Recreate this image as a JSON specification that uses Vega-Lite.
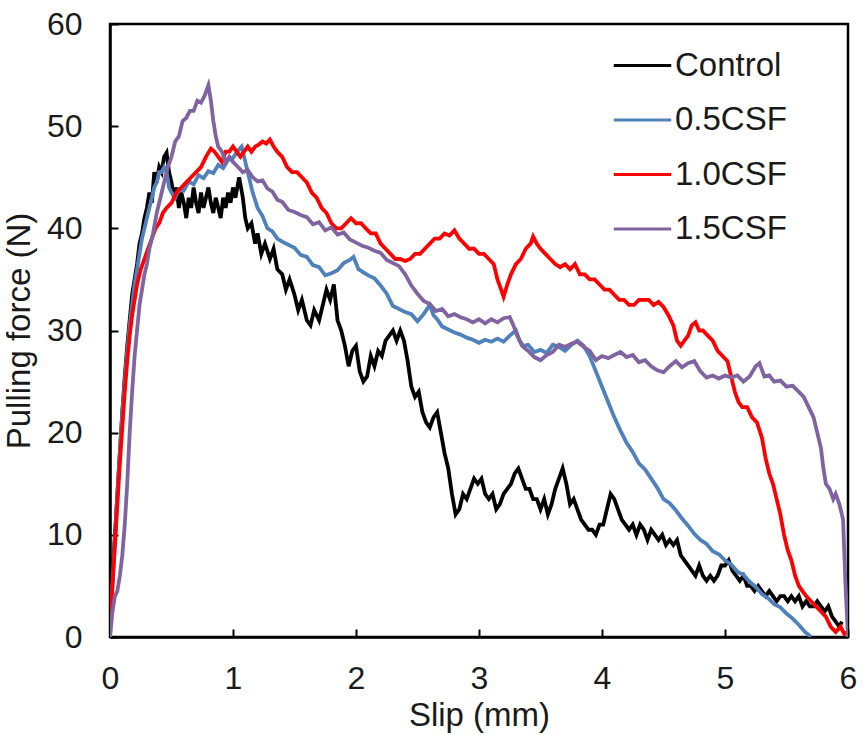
{
  "$schema": "https://vega.github.io/schema/vega-lite/v6.json",
  "width": 738,
  "height": 613,
  "autosize": "none",
  "padding": {"left": 110, "top": 24, "right": 17, "bottom": 98},
  "background": "white",
  "config": {
    "font": "Liberation Sans",
    "view": {"stroke": "black", "strokeWidth": 2.5},
    "axis": {
      "grid": false,
      "domainColor": "black",
      "domainWidth": 2.5,
      "tickColor": "black",
      "tickWidth": 2,
      "tickSize": -8,
      "labelFlush": false,
      "labelColor": "#1a1a1a",
      "titleColor": "#1a1a1a",
      "labelFont": "Liberation Sans",
      "titleFont": "Liberation Sans",
      "labelFontSize": 32,
      "titleFontSize": 33,
      "titleFontWeight": "normal"
    }
  },
  "data": {"values": [
    {"g":"Control","x":0,"y":1.5},{"g":"Control","x":0.02,"y":6},{"g":"Control","x":0.04,"y":10},{"g":"Control","x":0.06,"y":14},{"g":"Control","x":0.08,"y":18},{"g":"Control","x":0.1,"y":22},{"g":"Control","x":0.12,"y":25.5},{"g":"Control","x":0.14,"y":28.5},{"g":"Control","x":0.16,"y":31},{"g":"Control","x":0.18,"y":33.5},{"g":"Control","x":0.2,"y":35},{"g":"Control","x":0.22,"y":36.5},{"g":"Control","x":0.24,"y":38.5},{"g":"Control","x":0.26,"y":39.5},{"g":"Control","x":0.28,"y":41},{"g":"Control","x":0.3,"y":42},{"g":"Control","x":0.32,"y":43.5},{"g":"Control","x":0.34,"y":42.5},{"g":"Control","x":0.36,"y":45.5},{"g":"Control","x":0.38,"y":44.5},{"g":"Control","x":0.4,"y":46},{"g":"Control","x":0.42,"y":45.5},{"g":"Control","x":0.44,"y":47},{"g":"Control","x":0.46,"y":47.4},{"g":"Control","x":0.48,"y":45.5},{"g":"Control","x":0.5,"y":44.5},{"g":"Control","x":0.52,"y":43},{"g":"Control","x":0.54,"y":44},{"g":"Control","x":0.56,"y":42},{"g":"Control","x":0.58,"y":43.5},{"g":"Control","x":0.6,"y":42.5},{"g":"Control","x":0.62,"y":41},{"g":"Control","x":0.64,"y":43},{"g":"Control","x":0.66,"y":42},{"g":"Control","x":0.68,"y":44},{"g":"Control","x":0.7,"y":42.5},{"g":"Control","x":0.72,"y":41.5},{"g":"Control","x":0.74,"y":43.5},{"g":"Control","x":0.76,"y":42},{"g":"Control","x":0.78,"y":43},{"g":"Control","x":0.8,"y":44},{"g":"Control","x":0.82,"y":42.5},{"g":"Control","x":0.84,"y":41.5},{"g":"Control","x":0.86,"y":43},{"g":"Control","x":0.88,"y":42},{"g":"Control","x":0.9,"y":41},{"g":"Control","x":0.92,"y":43},{"g":"Control","x":0.94,"y":42},{"g":"Control","x":0.96,"y":43.5},{"g":"Control","x":0.98,"y":42.5},{"g":"Control","x":1.0,"y":44},{"g":"Control","x":1.02,"y":43},{"g":"Control","x":1.05,"y":45},{"g":"Control","x":1.08,"y":43},{"g":"Control","x":1.1,"y":41},{"g":"Control","x":1.12,"y":40},{"g":"Control","x":1.15,"y":40.5},{"g":"Control","x":1.18,"y":38.5},{"g":"Control","x":1.2,"y":39.5},{"g":"Control","x":1.23,"y":37.5},{"g":"Control","x":1.26,"y":38.5},{"g":"Control","x":1.3,"y":37},{"g":"Control","x":1.33,"y":38},{"g":"Control","x":1.36,"y":36},{"g":"Control","x":1.4,"y":35.5},{"g":"Control","x":1.43,"y":34},{"g":"Control","x":1.46,"y":35},{"g":"Control","x":1.5,"y":33.5},{"g":"Control","x":1.53,"y":32},{"g":"Control","x":1.56,"y":33},{"g":"Control","x":1.6,"y":31},{"g":"Control","x":1.63,"y":30.5},{"g":"Control","x":1.66,"y":32},{"g":"Control","x":1.7,"y":31},{"g":"Control","x":1.73,"y":32.5},{"g":"Control","x":1.76,"y":34},{"g":"Control","x":1.79,"y":33},{"g":"Control","x":1.82,"y":34.5},{"g":"Control","x":1.85,"y":31},{"g":"Control","x":1.88,"y":30},{"g":"Control","x":1.91,"y":28.5},{"g":"Control","x":1.94,"y":26.5},{"g":"Control","x":1.97,"y":28},{"g":"Control","x":2.0,"y":28.5},{"g":"Control","x":2.03,"y":26},{"g":"Control","x":2.06,"y":25},{"g":"Control","x":2.09,"y":25.5},{"g":"Control","x":2.12,"y":27.5},{"g":"Control","x":2.15,"y":26.5},{"g":"Control","x":2.18,"y":28},{"g":"Control","x":2.21,"y":27.5},{"g":"Control","x":2.24,"y":29},{"g":"Control","x":2.27,"y":29.5},{"g":"Control","x":2.3,"y":30},{"g":"Control","x":2.33,"y":29},{"g":"Control","x":2.36,"y":30},{"g":"Control","x":2.39,"y":29},{"g":"Control","x":2.42,"y":27},{"g":"Control","x":2.45,"y":24.5},{"g":"Control","x":2.48,"y":23.5},{"g":"Control","x":2.51,"y":24},{"g":"Control","x":2.54,"y":22},{"g":"Control","x":2.57,"y":21},{"g":"Control","x":2.6,"y":20.5},{"g":"Control","x":2.63,"y":21.5},{"g":"Control","x":2.66,"y":22},{"g":"Control","x":2.69,"y":20},{"g":"Control","x":2.72,"y":18},{"g":"Control","x":2.75,"y":16.5},{"g":"Control","x":2.78,"y":14},{"g":"Control","x":2.81,"y":12},{"g":"Control","x":2.84,"y":12.5},{"g":"Control","x":2.87,"y":14},{"g":"Control","x":2.9,"y":13.5},{"g":"Control","x":2.93,"y":14.5},{"g":"Control","x":2.96,"y":15.5},{"g":"Control","x":2.99,"y":15},{"g":"Control","x":3.02,"y":15.5},{"g":"Control","x":3.05,"y":14},{"g":"Control","x":3.08,"y":13.5},{"g":"Control","x":3.11,"y":14},{"g":"Control","x":3.14,"y":12.5},{"g":"Control","x":3.17,"y":13},{"g":"Control","x":3.2,"y":14},{"g":"Control","x":3.23,"y":14.5},{"g":"Control","x":3.26,"y":15},{"g":"Control","x":3.29,"y":16},{"g":"Control","x":3.32,"y":16.5},{"g":"Control","x":3.35,"y":15.5},{"g":"Control","x":3.38,"y":14.5},{"g":"Control","x":3.41,"y":14.5},{"g":"Control","x":3.44,"y":13.5},{"g":"Control","x":3.47,"y":13.5},{"g":"Control","x":3.5,"y":12.5},{"g":"Control","x":3.53,"y":13.5},{"g":"Control","x":3.56,"y":12},{"g":"Control","x":3.59,"y":13},{"g":"Control","x":3.62,"y":14.5},{"g":"Control","x":3.65,"y":15.5},{"g":"Control","x":3.68,"y":16.5},{"g":"Control","x":3.71,"y":15},{"g":"Control","x":3.74,"y":13},{"g":"Control","x":3.77,"y":13.5},{"g":"Control","x":3.8,"y":12.5},{"g":"Control","x":3.83,"y":11.5},{"g":"Control","x":3.86,"y":11},{"g":"Control","x":3.89,"y":10.5},{"g":"Control","x":3.92,"y":10.5},{"g":"Control","x":3.95,"y":10},{"g":"Control","x":3.98,"y":11},{"g":"Control","x":4.01,"y":11},{"g":"Control","x":4.04,"y":12.5},{"g":"Control","x":4.07,"y":14},{"g":"Control","x":4.1,"y":13.5},{"g":"Control","x":4.13,"y":12.5},{"g":"Control","x":4.16,"y":11.5},{"g":"Control","x":4.19,"y":11},{"g":"Control","x":4.22,"y":10.5},{"g":"Control","x":4.25,"y":11},{"g":"Control","x":4.28,"y":10},{"g":"Control","x":4.31,"y":11},{"g":"Control","x":4.34,"y":10.5},{"g":"Control","x":4.37,"y":9.5},{"g":"Control","x":4.4,"y":10.5},{"g":"Control","x":4.43,"y":10},{"g":"Control","x":4.46,"y":9.5},{"g":"Control","x":4.49,"y":10},{"g":"Control","x":4.52,"y":9},{"g":"Control","x":4.55,"y":9.5},{"g":"Control","x":4.58,"y":9},{"g":"Control","x":4.61,"y":9.5},{"g":"Control","x":4.64,"y":8},{"g":"Control","x":4.67,"y":7.5},{"g":"Control","x":4.7,"y":7},{"g":"Control","x":4.73,"y":6.5},{"g":"Control","x":4.76,"y":6},{"g":"Control","x":4.79,"y":7},{"g":"Control","x":4.82,"y":6},{"g":"Control","x":4.85,"y":5.5},{"g":"Control","x":4.88,"y":6},{"g":"Control","x":4.91,"y":5.5},{"g":"Control","x":4.94,"y":6},{"g":"Control","x":4.97,"y":7},{"g":"Control","x":5.0,"y":7},{"g":"Control","x":5.03,"y":7.5},{"g":"Control","x":5.06,"y":6.5},{"g":"Control","x":5.09,"y":6},{"g":"Control","x":5.12,"y":5.5},{"g":"Control","x":5.15,"y":6},{"g":"Control","x":5.18,"y":5},{"g":"Control","x":5.21,"y":5},{"g":"Control","x":5.24,"y":4.5},{"g":"Control","x":5.27,"y":5},{"g":"Control","x":5.3,"y":4.5},{"g":"Control","x":5.33,"y":4},{"g":"Control","x":5.36,"y":4.5},{"g":"Control","x":5.39,"y":4},{"g":"Control","x":5.42,"y":3.5},{"g":"Control","x":5.45,"y":4},{"g":"Control","x":5.48,"y":4},{"g":"Control","x":5.51,"y":3.5},{"g":"Control","x":5.54,"y":4},{"g":"Control","x":5.57,"y":3.5},{"g":"Control","x":5.6,"y":4},{"g":"Control","x":5.63,"y":3},{"g":"Control","x":5.66,"y":3.5},{"g":"Control","x":5.69,"y":3},{"g":"Control","x":5.72,"y":3},{"g":"Control","x":5.75,"y":3.5},{"g":"Control","x":5.78,"y":3},{"g":"Control","x":5.81,"y":2.5},{"g":"Control","x":5.84,"y":3},{"g":"Control","x":5.87,"y":2},{"g":"Control","x":5.9,"y":1.5},{"g":"Control","x":5.93,"y":1},{"g":"Control","x":5.95,"y":1.5},

    {"g":"0.5CSF","x":0,"y":0},{"g":"0.5CSF","x":0.02,"y":5},{"g":"0.5CSF","x":0.04,"y":9.5},{"g":"0.5CSF","x":0.06,"y":14},{"g":"0.5CSF","x":0.08,"y":18},{"g":"0.5CSF","x":0.1,"y":22},{"g":"0.5CSF","x":0.12,"y":25},{"g":"0.5CSF","x":0.14,"y":28},{"g":"0.5CSF","x":0.16,"y":30.5},{"g":"0.5CSF","x":0.18,"y":32.5},{"g":"0.5CSF","x":0.2,"y":34.5},{"g":"0.5CSF","x":0.22,"y":36},{"g":"0.5CSF","x":0.24,"y":37.5},{"g":"0.5CSF","x":0.26,"y":39},{"g":"0.5CSF","x":0.28,"y":40},{"g":"0.5CSF","x":0.3,"y":41},{"g":"0.5CSF","x":0.32,"y":42},{"g":"0.5CSF","x":0.34,"y":43},{"g":"0.5CSF","x":0.36,"y":44},{"g":"0.5CSF","x":0.38,"y":44.5},{"g":"0.5CSF","x":0.4,"y":45.5},{"g":"0.5CSF","x":0.42,"y":45.5},{"g":"0.5CSF","x":0.44,"y":46},{"g":"0.5CSF","x":0.46,"y":45.5},{"g":"0.5CSF","x":0.48,"y":44},{"g":"0.5CSF","x":0.5,"y":43.5},{"g":"0.5CSF","x":0.53,"y":43},{"g":"0.5CSF","x":0.56,"y":43.8},{"g":"0.5CSF","x":0.6,"y":43.7},{"g":"0.5CSF","x":0.64,"y":44.6},{"g":"0.5CSF","x":0.68,"y":44.3},{"g":"0.5CSF","x":0.72,"y":45.2},{"g":"0.5CSF","x":0.76,"y":44.9},{"g":"0.5CSF","x":0.8,"y":45.6},{"g":"0.5CSF","x":0.84,"y":45.4},{"g":"0.5CSF","x":0.88,"y":46.2},{"g":"0.5CSF","x":0.92,"y":45.9},{"g":"0.5CSF","x":0.96,"y":46.7},{"g":"0.5CSF","x":1.0,"y":46.9},{"g":"0.5CSF","x":1.04,"y":47.6},{"g":"0.5CSF","x":1.07,"y":48},{"g":"0.5CSF","x":1.1,"y":46.5},{"g":"0.5CSF","x":1.13,"y":45},{"g":"0.5CSF","x":1.16,"y":43.5},{"g":"0.5CSF","x":1.2,"y":42},{"g":"0.5CSF","x":1.24,"y":41.2},{"g":"0.5CSF","x":1.28,"y":40},{"g":"0.5CSF","x":1.32,"y":39.7},{"g":"0.5CSF","x":1.36,"y":39},{"g":"0.5CSF","x":1.4,"y":38.7},{"g":"0.5CSF","x":1.45,"y":38.4},{"g":"0.5CSF","x":1.5,"y":38.1},{"g":"0.5CSF","x":1.55,"y":37.4},{"g":"0.5CSF","x":1.6,"y":37.2},{"g":"0.5CSF","x":1.65,"y":36.4},{"g":"0.5CSF","x":1.7,"y":36.2},{"g":"0.5CSF","x":1.75,"y":35.4},{"g":"0.5CSF","x":1.8,"y":35.6},{"g":"0.5CSF","x":1.85,"y":35.9},{"g":"0.5CSF","x":1.9,"y":36.6},{"g":"0.5CSF","x":1.95,"y":36.9},{"g":"0.5CSF","x":1.98,"y":37.2},{"g":"0.5CSF","x":2.02,"y":36},{"g":"0.5CSF","x":2.06,"y":35.7},{"g":"0.5CSF","x":2.1,"y":35.4},{"g":"0.5CSF","x":2.15,"y":35.1},{"g":"0.5CSF","x":2.2,"y":34.4},{"g":"0.5CSF","x":2.25,"y":33.6},{"g":"0.5CSF","x":2.3,"y":32.4},{"g":"0.5CSF","x":2.35,"y":32.1},{"g":"0.5CSF","x":2.4,"y":31.8},{"g":"0.5CSF","x":2.45,"y":31.6},{"g":"0.5CSF","x":2.5,"y":30.9},{"g":"0.5CSF","x":2.55,"y":31.6},{"g":"0.5CSF","x":2.6,"y":32.5},{"g":"0.5CSF","x":2.63,"y":31.5},{"g":"0.5CSF","x":2.66,"y":31.1},{"g":"0.5CSF","x":2.7,"y":30.4},{"g":"0.5CSF","x":2.75,"y":30.1},{"g":"0.5CSF","x":2.8,"y":29.8},{"g":"0.5CSF","x":2.85,"y":29.6},{"g":"0.5CSF","x":2.9,"y":29.3},{"g":"0.5CSF","x":2.95,"y":29.1},{"g":"0.5CSF","x":3.0,"y":28.8},{"g":"0.5CSF","x":3.05,"y":29.1},{"g":"0.5CSF","x":3.1,"y":28.9},{"g":"0.5CSF","x":3.15,"y":29.2},{"g":"0.5CSF","x":3.2,"y":28.9},{"g":"0.5CSF","x":3.25,"y":29.5},{"g":"0.5CSF","x":3.3,"y":30},{"g":"0.5CSF","x":3.33,"y":29},{"g":"0.5CSF","x":3.36,"y":28.5},{"g":"0.5CSF","x":3.4,"y":28.6},{"g":"0.5CSF","x":3.45,"y":27.9},{"g":"0.5CSF","x":3.5,"y":28.1},{"g":"0.5CSF","x":3.55,"y":27.8},{"g":"0.5CSF","x":3.6,"y":28.6},{"g":"0.5CSF","x":3.65,"y":28.4},{"g":"0.5CSF","x":3.7,"y":28},{"g":"0.5CSF","x":3.75,"y":28.6},{"g":"0.5CSF","x":3.8,"y":29},{"g":"0.5CSF","x":3.85,"y":28.5},{"g":"0.5CSF","x":3.9,"y":27.5},{"g":"0.5CSF","x":3.95,"y":26},{"g":"0.5CSF","x":4.0,"y":24.5},{"g":"0.5CSF","x":4.05,"y":23},{"g":"0.5CSF","x":4.1,"y":21.5},{"g":"0.5CSF","x":4.15,"y":20.2},{"g":"0.5CSF","x":4.2,"y":19},{"g":"0.5CSF","x":4.25,"y":18.1},{"g":"0.5CSF","x":4.3,"y":17},{"g":"0.5CSF","x":4.35,"y":16.4},{"g":"0.5CSF","x":4.4,"y":15.5},{"g":"0.5CSF","x":4.45,"y":14.6},{"g":"0.5CSF","x":4.5,"y":13.5},{"g":"0.5CSF","x":4.55,"y":13.1},{"g":"0.5CSF","x":4.6,"y":12.4},{"g":"0.5CSF","x":4.65,"y":11.6},{"g":"0.5CSF","x":4.7,"y":10.9},{"g":"0.5CSF","x":4.75,"y":10.1},{"g":"0.5CSF","x":4.8,"y":9.5},{"g":"0.5CSF","x":4.85,"y":9.1},{"g":"0.5CSF","x":4.9,"y":8.4},{"g":"0.5CSF","x":4.95,"y":8.1},{"g":"0.5CSF","x":5.0,"y":7.5},{"g":"0.5CSF","x":5.05,"y":7.1},{"g":"0.5CSF","x":5.1,"y":6.4},{"g":"0.5CSF","x":5.15,"y":6.1},{"g":"0.5CSF","x":5.2,"y":5.4},{"g":"0.5CSF","x":5.25,"y":4.9},{"g":"0.5CSF","x":5.3,"y":4.2},{"g":"0.5CSF","x":5.35,"y":3.8},{"g":"0.5CSF","x":5.4,"y":3.2},{"g":"0.5CSF","x":5.45,"y":2.9},{"g":"0.5CSF","x":5.5,"y":2.3},{"g":"0.5CSF","x":5.55,"y":1.8},{"g":"0.5CSF","x":5.6,"y":1.2},{"g":"0.5CSF","x":5.65,"y":0.5},{"g":"0.5CSF","x":5.7,"y":0},

    {"g":"1.0CSF","x":0,"y":1.5},{"g":"1.0CSF","x":0.02,"y":5},{"g":"1.0CSF","x":0.04,"y":9},{"g":"1.0CSF","x":0.06,"y":13},{"g":"1.0CSF","x":0.08,"y":17},{"g":"1.0CSF","x":0.1,"y":20.5},{"g":"1.0CSF","x":0.12,"y":24},{"g":"1.0CSF","x":0.14,"y":27},{"g":"1.0CSF","x":0.16,"y":29.5},{"g":"1.0CSF","x":0.18,"y":31.5},{"g":"1.0CSF","x":0.2,"y":33},{"g":"1.0CSF","x":0.22,"y":34.5},{"g":"1.0CSF","x":0.25,"y":36},{"g":"1.0CSF","x":0.28,"y":37},{"g":"1.0CSF","x":0.31,"y":38},{"g":"1.0CSF","x":0.34,"y":39},{"g":"1.0CSF","x":0.37,"y":40},{"g":"1.0CSF","x":0.4,"y":40.5},{"g":"1.0CSF","x":0.43,"y":41.5},{"g":"1.0CSF","x":0.46,"y":42},{"g":"1.0CSF","x":0.5,"y":42.5},{"g":"1.0CSF","x":0.54,"y":43.5},{"g":"1.0CSF","x":0.58,"y":44},{"g":"1.0CSF","x":0.62,"y":44.5},{"g":"1.0CSF","x":0.66,"y":45},{"g":"1.0CSF","x":0.7,"y":45.5},{"g":"1.0CSF","x":0.74,"y":46},{"g":"1.0CSF","x":0.78,"y":47},{"g":"1.0CSF","x":0.82,"y":47.8},{"g":"1.0CSF","x":0.85,"y":47.5},{"g":"1.0CSF","x":0.88,"y":47},{"g":"1.0CSF","x":0.91,"y":46.5},{"g":"1.0CSF","x":0.94,"y":47.5},{"g":"1.0CSF","x":0.97,"y":47.5},{"g":"1.0CSF","x":1.0,"y":48},{"g":"1.0CSF","x":1.03,"y":47.5},{"g":"1.0CSF","x":1.06,"y":47},{"g":"1.0CSF","x":1.09,"y":47.5},{"g":"1.0CSF","x":1.12,"y":48},{"g":"1.0CSF","x":1.15,"y":47.5},{"g":"1.0CSF","x":1.18,"y":48},{"g":"1.0CSF","x":1.21,"y":48.2},{"g":"1.0CSF","x":1.24,"y":48.5},{"g":"1.0CSF","x":1.27,"y":48.3},{"g":"1.0CSF","x":1.3,"y":48.7},{"g":"1.0CSF","x":1.33,"y":48},{"g":"1.0CSF","x":1.36,"y":47.5},{"g":"1.0CSF","x":1.4,"y":47},{"g":"1.0CSF","x":1.44,"y":46},{"g":"1.0CSF","x":1.48,"y":45.5},{"g":"1.0CSF","x":1.52,"y":45.5},{"g":"1.0CSF","x":1.56,"y":45},{"g":"1.0CSF","x":1.6,"y":44.5},{"g":"1.0CSF","x":1.64,"y":43.5},{"g":"1.0CSF","x":1.68,"y":43},{"g":"1.0CSF","x":1.72,"y":42},{"g":"1.0CSF","x":1.76,"y":41.5},{"g":"1.0CSF","x":1.8,"y":40.5},{"g":"1.0CSF","x":1.84,"y":40},{"g":"1.0CSF","x":1.88,"y":40},{"g":"1.0CSF","x":1.92,"y":40.5},{"g":"1.0CSF","x":1.96,"y":41},{"g":"1.0CSF","x":2.0,"y":40.5},{"g":"1.0CSF","x":2.04,"y":40.5},{"g":"1.0CSF","x":2.08,"y":40},{"g":"1.0CSF","x":2.12,"y":39.5},{"g":"1.0CSF","x":2.16,"y":39.5},{"g":"1.0CSF","x":2.2,"y":38.5},{"g":"1.0CSF","x":2.24,"y":38},{"g":"1.0CSF","x":2.28,"y":37.5},{"g":"1.0CSF","x":2.32,"y":37},{"g":"1.0CSF","x":2.36,"y":37},{"g":"1.0CSF","x":2.4,"y":36.8},{"g":"1.0CSF","x":2.44,"y":37},{"g":"1.0CSF","x":2.48,"y":37.5},{"g":"1.0CSF","x":2.52,"y":37.5},{"g":"1.0CSF","x":2.56,"y":38},{"g":"1.0CSF","x":2.6,"y":38.5},{"g":"1.0CSF","x":2.64,"y":39},{"g":"1.0CSF","x":2.68,"y":39},{"g":"1.0CSF","x":2.72,"y":39.5},{"g":"1.0CSF","x":2.76,"y":39.3},{"g":"1.0CSF","x":2.8,"y":39.8},{"g":"1.0CSF","x":2.84,"y":39},{"g":"1.0CSF","x":2.88,"y":38.5},{"g":"1.0CSF","x":2.92,"y":38},{"g":"1.0CSF","x":2.96,"y":38},{"g":"1.0CSF","x":3.0,"y":37.5},{"g":"1.0CSF","x":3.04,"y":37.5},{"g":"1.0CSF","x":3.08,"y":37},{"g":"1.0CSF","x":3.12,"y":36.5},{"g":"1.0CSF","x":3.15,"y":35},{"g":"1.0CSF","x":3.18,"y":34},{"g":"1.0CSF","x":3.2,"y":33.3},{"g":"1.0CSF","x":3.23,"y":34.5},{"g":"1.0CSF","x":3.26,"y":35.5},{"g":"1.0CSF","x":3.3,"y":36.5},{"g":"1.0CSF","x":3.34,"y":37},{"g":"1.0CSF","x":3.38,"y":38},{"g":"1.0CSF","x":3.42,"y":38.5},{"g":"1.0CSF","x":3.44,"y":39.2},{"g":"1.0CSF","x":3.47,"y":38.5},{"g":"1.0CSF","x":3.5,"y":38},{"g":"1.0CSF","x":3.54,"y":37.5},{"g":"1.0CSF","x":3.58,"y":37},{"g":"1.0CSF","x":3.62,"y":36.5},{"g":"1.0CSF","x":3.66,"y":36.2},{"g":"1.0CSF","x":3.7,"y":36.5},{"g":"1.0CSF","x":3.74,"y":36},{"g":"1.0CSF","x":3.78,"y":36.5},{"g":"1.0CSF","x":3.82,"y":35.5},{"g":"1.0CSF","x":3.86,"y":35.5},{"g":"1.0CSF","x":3.9,"y":35},{"g":"1.0CSF","x":3.94,"y":35},{"g":"1.0CSF","x":3.98,"y":34.5},{"g":"1.0CSF","x":4.02,"y":34},{"g":"1.0CSF","x":4.06,"y":34},{"g":"1.0CSF","x":4.1,"y":33.5},{"g":"1.0CSF","x":4.14,"y":33},{"g":"1.0CSF","x":4.18,"y":33},{"g":"1.0CSF","x":4.22,"y":32.5},{"g":"1.0CSF","x":4.26,"y":32.5},{"g":"1.0CSF","x":4.3,"y":33},{"g":"1.0CSF","x":4.34,"y":33},{"g":"1.0CSF","x":4.38,"y":33},{"g":"1.0CSF","x":4.42,"y":32.5},{"g":"1.0CSF","x":4.46,"y":32.8},{"g":"1.0CSF","x":4.5,"y":32.3},{"g":"1.0CSF","x":4.54,"y":31.5},{"g":"1.0CSF","x":4.58,"y":30.5},{"g":"1.0CSF","x":4.61,"y":29},{"g":"1.0CSF","x":4.64,"y":28.5},{"g":"1.0CSF","x":4.67,"y":29},{"g":"1.0CSF","x":4.7,"y":29.5},{"g":"1.0CSF","x":4.73,"y":30.5},{"g":"1.0CSF","x":4.76,"y":30.8},{"g":"1.0CSF","x":4.79,"y":30},{"g":"1.0CSF","x":4.82,"y":30},{"g":"1.0CSF","x":4.86,"y":29.5},{"g":"1.0CSF","x":4.9,"y":29},{"g":"1.0CSF","x":4.94,"y":28},{"g":"1.0CSF","x":4.98,"y":27.5},{"g":"1.0CSF","x":5.02,"y":27},{"g":"1.0CSF","x":5.05,"y":25.5},{"g":"1.0CSF","x":5.08,"y":24},{"g":"1.0CSF","x":5.11,"y":23},{"g":"1.0CSF","x":5.14,"y":22.5},{"g":"1.0CSF","x":5.18,"y":22.5},{"g":"1.0CSF","x":5.22,"y":21.5},{"g":"1.0CSF","x":5.26,"y":21},{"g":"1.0CSF","x":5.3,"y":19.5},{"g":"1.0CSF","x":5.33,"y":17.5},{"g":"1.0CSF","x":5.36,"y":16},{"g":"1.0CSF","x":5.39,"y":15},{"g":"1.0CSF","x":5.42,"y":13.5},{"g":"1.0CSF","x":5.45,"y":12},{"g":"1.0CSF","x":5.48,"y":10},{"g":"1.0CSF","x":5.51,"y":8.5},{"g":"1.0CSF","x":5.54,"y":7.5},{"g":"1.0CSF","x":5.57,"y":6},{"g":"1.0CSF","x":5.6,"y":5},{"g":"1.0CSF","x":5.63,"y":4.5},{"g":"1.0CSF","x":5.66,"y":4},{"g":"1.0CSF","x":5.7,"y":3.5},{"g":"1.0CSF","x":5.74,"y":3},{"g":"1.0CSF","x":5.78,"y":2.5},{"g":"1.0CSF","x":5.82,"y":2},{"g":"1.0CSF","x":5.86,"y":1},{"g":"1.0CSF","x":5.9,"y":0.5},{"g":"1.0CSF","x":5.94,"y":1},{"g":"1.0CSF","x":5.97,"y":0.3},{"g":"1.0CSF","x":6.0,"y":0.5},

    {"g":"1.5CSF","x":0,"y":0},{"g":"1.5CSF","x":0.02,"y":2.5},{"g":"1.5CSF","x":0.04,"y":4},{"g":"1.5CSF","x":0.06,"y":4.5},{"g":"1.5CSF","x":0.08,"y":6},{"g":"1.5CSF","x":0.1,"y":8},{"g":"1.5CSF","x":0.12,"y":11},{"g":"1.5CSF","x":0.14,"y":15},{"g":"1.5CSF","x":0.16,"y":20},{"g":"1.5CSF","x":0.18,"y":24},{"g":"1.5CSF","x":0.2,"y":27.5},{"g":"1.5CSF","x":0.22,"y":30},{"g":"1.5CSF","x":0.24,"y":32.5},{"g":"1.5CSF","x":0.26,"y":34},{"g":"1.5CSF","x":0.28,"y":35.5},{"g":"1.5CSF","x":0.3,"y":36.5},{"g":"1.5CSF","x":0.32,"y":38},{"g":"1.5CSF","x":0.35,"y":39.5},{"g":"1.5CSF","x":0.38,"y":41.5},{"g":"1.5CSF","x":0.41,"y":43},{"g":"1.5CSF","x":0.44,"y":44.5},{"g":"1.5CSF","x":0.47,"y":46},{"g":"1.5CSF","x":0.5,"y":47},{"g":"1.5CSF","x":0.53,"y":48.5},{"g":"1.5CSF","x":0.56,"y":49},{"g":"1.5CSF","x":0.59,"y":50.5},{"g":"1.5CSF","x":0.62,"y":50.8},{"g":"1.5CSF","x":0.65,"y":51.5},{"g":"1.5CSF","x":0.68,"y":51.5},{"g":"1.5CSF","x":0.71,"y":52.5},{"g":"1.5CSF","x":0.74,"y":52.3},{"g":"1.5CSF","x":0.77,"y":53},{"g":"1.5CSF","x":0.8,"y":54},{"g":"1.5CSF","x":0.82,"y":52.5},{"g":"1.5CSF","x":0.84,"y":50.5},{"g":"1.5CSF","x":0.86,"y":49},{"g":"1.5CSF","x":0.88,"y":48},{"g":"1.5CSF","x":0.91,"y":47.5},{"g":"1.5CSF","x":0.94,"y":46.5},{"g":"1.5CSF","x":0.97,"y":47},{"g":"1.5CSF","x":1.0,"y":46.5},{"g":"1.5CSF","x":1.04,"y":46},{"g":"1.5CSF","x":1.08,"y":45.5},{"g":"1.5CSF","x":1.12,"y":45.7},{"g":"1.5CSF","x":1.16,"y":45},{"g":"1.5CSF","x":1.2,"y":44.6},{"g":"1.5CSF","x":1.24,"y":44.7},{"g":"1.5CSF","x":1.28,"y":43.9},{"g":"1.5CSF","x":1.32,"y":43.6},{"g":"1.5CSF","x":1.36,"y":42.8},{"g":"1.5CSF","x":1.4,"y":42.6},{"g":"1.5CSF","x":1.45,"y":41.8},{"g":"1.5CSF","x":1.5,"y":41.6},{"g":"1.5CSF","x":1.55,"y":41.3},{"g":"1.5CSF","x":1.6,"y":41.1},{"g":"1.5CSF","x":1.65,"y":40.4},{"g":"1.5CSF","x":1.7,"y":40.6},{"g":"1.5CSF","x":1.75,"y":39.8},{"g":"1.5CSF","x":1.8,"y":40.1},{"g":"1.5CSF","x":1.85,"y":39.4},{"g":"1.5CSF","x":1.9,"y":39.6},{"g":"1.5CSF","x":1.95,"y":38.9},{"g":"1.5CSF","x":2.0,"y":38.6},{"g":"1.5CSF","x":2.05,"y":38.3},{"g":"1.5CSF","x":2.1,"y":38.1},{"g":"1.5CSF","x":2.15,"y":37.8},{"g":"1.5CSF","x":2.2,"y":37.6},{"g":"1.5CSF","x":2.25,"y":36.9},{"g":"1.5CSF","x":2.3,"y":36.6},{"g":"1.5CSF","x":2.35,"y":36.3},{"g":"1.5CSF","x":2.4,"y":35.5},{"g":"1.5CSF","x":2.45,"y":34.4},{"g":"1.5CSF","x":2.5,"y":33.6},{"g":"1.5CSF","x":2.55,"y":32.9},{"g":"1.5CSF","x":2.6,"y":32.6},{"g":"1.5CSF","x":2.65,"y":31.9},{"g":"1.5CSF","x":2.7,"y":32.1},{"g":"1.5CSF","x":2.75,"y":31.4},{"g":"1.5CSF","x":2.8,"y":31.6},{"g":"1.5CSF","x":2.85,"y":31.3},{"g":"1.5CSF","x":2.9,"y":31.1},{"g":"1.5CSF","x":2.95,"y":30.8},{"g":"1.5CSF","x":3.0,"y":31.1},{"g":"1.5CSF","x":3.05,"y":30.7},{"g":"1.5CSF","x":3.1,"y":31.1},{"g":"1.5CSF","x":3.15,"y":30.8},{"g":"1.5CSF","x":3.2,"y":31.2},{"g":"1.5CSF","x":3.25,"y":31.3},{"g":"1.5CSF","x":3.28,"y":30.5},{"g":"1.5CSF","x":3.31,"y":29.5},{"g":"1.5CSF","x":3.35,"y":28.5},{"g":"1.5CSF","x":3.4,"y":28},{"g":"1.5CSF","x":3.45,"y":27.4},{"g":"1.5CSF","x":3.5,"y":27.1},{"g":"1.5CSF","x":3.55,"y":27.6},{"g":"1.5CSF","x":3.6,"y":27.9},{"g":"1.5CSF","x":3.65,"y":28.6},{"g":"1.5CSF","x":3.7,"y":28.4},{"g":"1.5CSF","x":3.75,"y":28.7},{"g":"1.5CSF","x":3.8,"y":28.9},{"g":"1.5CSF","x":3.85,"y":28.4},{"g":"1.5CSF","x":3.9,"y":28},{"g":"1.5CSF","x":3.95,"y":27.1},{"g":"1.5CSF","x":4.0,"y":27.5},{"g":"1.5CSF","x":4.05,"y":27.3},{"g":"1.5CSF","x":4.1,"y":27.6},{"g":"1.5CSF","x":4.15,"y":27.9},{"g":"1.5CSF","x":4.2,"y":27.4},{"g":"1.5CSF","x":4.25,"y":27.6},{"g":"1.5CSF","x":4.3,"y":26.9},{"g":"1.5CSF","x":4.35,"y":27.1},{"g":"1.5CSF","x":4.4,"y":26.5},{"g":"1.5CSF","x":4.45,"y":26.1},{"g":"1.5CSF","x":4.5,"y":25.9},{"g":"1.5CSF","x":4.55,"y":26.5},{"g":"1.5CSF","x":4.6,"y":27},{"g":"1.5CSF","x":4.65,"y":26.4},{"g":"1.5CSF","x":4.7,"y":26.8},{"g":"1.5CSF","x":4.75,"y":27},{"g":"1.5CSF","x":4.8,"y":26},{"g":"1.5CSF","x":4.85,"y":25.4},{"g":"1.5CSF","x":4.9,"y":25.6},{"g":"1.5CSF","x":4.95,"y":25.3},{"g":"1.5CSF","x":5.0,"y":25.6},{"g":"1.5CSF","x":5.05,"y":25.4},{"g":"1.5CSF","x":5.1,"y":25.6},{"g":"1.5CSF","x":5.15,"y":25},{"g":"1.5CSF","x":5.2,"y":25.5},{"g":"1.5CSF","x":5.25,"y":26.5},{"g":"1.5CSF","x":5.28,"y":26.8},{"g":"1.5CSF","x":5.32,"y":25.5},{"g":"1.5CSF","x":5.36,"y":25.6},{"g":"1.5CSF","x":5.4,"y":25},{"g":"1.5CSF","x":5.45,"y":25.1},{"g":"1.5CSF","x":5.5,"y":24.5},{"g":"1.5CSF","x":5.55,"y":24.6},{"g":"1.5CSF","x":5.6,"y":24},{"g":"1.5CSF","x":5.64,"y":23.5},{"g":"1.5CSF","x":5.68,"y":22.5},{"g":"1.5CSF","x":5.72,"y":21.5},{"g":"1.5CSF","x":5.75,"y":20},{"g":"1.5CSF","x":5.78,"y":18.5},{"g":"1.5CSF","x":5.8,"y":16.5},{"g":"1.5CSF","x":5.82,"y":15},{"g":"1.5CSF","x":5.85,"y":14.5},{"g":"1.5CSF","x":5.88,"y":13.5},{"g":"1.5CSF","x":5.9,"y":14},{"g":"1.5CSF","x":5.93,"y":13},{"g":"1.5CSF","x":5.96,"y":11.5},{"g":"1.5CSF","x":5.98,"y":5},{"g":"1.5CSF","x":6.0,"y":0}
  ]},
  "mark": {"type": "line", "strokeWidth": 3.8, "clip": true},
  "encoding": {
    "x": {
      "field": "x", "type": "quantitative",
      "scale": {"domain": [0, 6], "nice": false},
      "axis": {"values": [0, 1, 2, 3, 4, 5, 6], "title": "Slip (mm)", "labelPadding": 34, "titlePadding": 5}
    },
    "y": {
      "field": "y", "type": "quantitative",
      "scale": {"domain": [0, 60], "nice": false},
      "axis": {"values": [0, 10, 20, 30, 40, 50, 60], "title": "Pulling force (N)", "labelPadding": 36, "titlePadding": 10}
    },
    "color": {
      "field": "g", "type": "nominal",
      "scale": {"domain": ["Control", "0.5CSF", "1.0CSF", "1.5CSF"], "range": ["#000000", "#4F81BD", "#FF0000", "#8064A2"]},
      "legend": {
        "title": null,
        "orient": "none",
        "legendX": 502,
        "legendY": 11,
        "symbolType": "stroke",
        "symbolSize": 3300,
        "symbolStrokeWidth": 3,
        "labelFontSize": 33,
        "labelFont": "Liberation Sans",
        "labelColor": "#1a1a1a",
        "labelOffset": 2,
        "rowPadding": 6.5
      }
    },
    "order": {"field": "x", "type": "quantitative"}
  }
}
